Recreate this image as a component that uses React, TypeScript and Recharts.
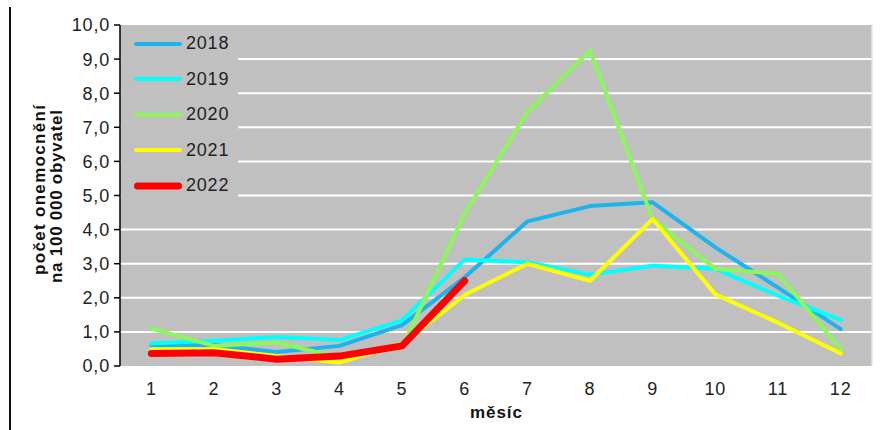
import React from 'react';
import {
  LineChart,
  Line,
  XAxis,
  YAxis,
  CartesianGrid,
  Legend,
  ReferenceLine
} from 'recharts';

const months = [1, 2, 3, 4, 5, 6, 7, 8, 9, 10, 11, 12];
const v2018 = [0.6, 0.62, 0.41, 0.59, 1.2, 2.6, 4.24, 4.69, 4.8, 3.48, 2.3, 1.08];
const v2019 = [0.66, 0.74, 0.85, 0.76, 1.34, 3.12, 3.04, 2.68, 2.94, 2.85, 2.06, 1.35];
const v2020 = [1.1, 0.59, 0.69, 0.25, 0.54, 4.47, 7.45, 9.25, 4.3, 2.85, 2.7, 0.49];
const v2021 = [0.49, 0.49, 0.29, 0.1, 0.66, 2.08, 3.0, 2.5, 4.31, 2.1, 1.27, 0.37];
const v2022 = [0.37, 0.39, 0.2, 0.29, 0.59, 2.5];
const yTicks = [0, 1, 2, 3, 4, 5, 6, 7, 8, 9, 10];

const FONT = '"Liberation Sans", Arial, sans-serif';

const series = [
  { key: 'y2018', name: '2018', color: '#1CB4EE', width: 4 },
  { key: 'y2019', name: '2019', color: '#00FFFF', width: 4 },
  { key: 'y2020', name: '2020', color: '#8CF75A', width: 4 },
  { key: 'y2021', name: '2021', color: '#FFFF00', width: 4 },
  { key: 'y2022', name: '2022', color: '#FF0000', width: 7 }
];

const data = months.map((m, i) => ({
  month: m,
  y2018: v2018[i],
  y2019: v2019[i],
  y2020: v2020[i],
  y2021: v2021[i],
  y2022: i < v2022.length ? v2022[i] : null
}));

// tick marks sit between the months, like the original spreadsheet chart
const boundaries = [...months.map((m) => m - 0.5), 12.5];

const tickStyle = { letterSpacing: '0.8px' };

const MonthTick = ({ x, y, payload }: any) => (
  <text
    x={x}
    y={y + 29}
    textAnchor="middle"
    fill="#222"
    fontSize={18}
    fontFamily={FONT}
    style={tickStyle}
  >
    {payload.value}
  </text>
);

const ValueTick = ({ x, y, payload }: any) => (
  <text
    x={x + 1}
    y={y}
    dy="0.36em"
    textAnchor="end"
    fill="#222"
    fontSize={18}
    fontFamily={FONT}
    style={tickStyle}
  >
    {payload.value.toFixed(1).replace('.', ',')}
  </text>
);

const YTitle = () => (
  <g fontFamily={FONT} fontWeight="bold" fontSize={17} fill="#111">
    <text
      x={45}
      y={190}
      textAnchor="middle"
      textLength={170}
      lengthAdjust="spacing"
      transform="rotate(-90, 45, 190)"
    >
      počet onemocnění
    </text>
    <text
      x={62}
      y={196.5}
      textAnchor="middle"
      textLength={173}
      lengthAdjust="spacing"
      transform="rotate(-90, 62, 196.5)"
    >
      na 100 000 obyvatel
    </text>
  </g>
);

const XTitle = () => (
  <text
    x={496}
    y={418}
    textAnchor="middle"
    fontFamily={FONT}
    fontWeight="bold"
    fontSize={17}
    fill="#111"
    textLength={52}
    lengthAdjust="spacing"
  >
    měsíc
  </text>
);

const LegendBox = () => (
  <div
    style={{
      width: 117,
      height: 172,
      background: '#C0C0C0',
      fontFamily: FONT,
      fontSize: 18,
      letterSpacing: '0.8px',
      color: '#222'
    }}
  >
    {series.map((s) => (
      <div key={s.key} style={{ display: 'flex', alignItems: 'center', height: 35.5 }}>
        <svg width={65} height={10} style={{ display: 'block' }}>
          <line
            x1={13 + s.width / 2}
            y1={5}
            x2={61 - s.width / 2}
            y2={5}
            stroke={s.color}
            strokeWidth={s.width}
            strokeLinecap="round"
          />
        </svg>
        <span>{s.name}</span>
      </div>
    ))}
  </div>
);

export default function App() {
  return (
    <div style={{ position: 'absolute', left: 0, top: 0, width: 894, height: 430, background: '#fff' }}>
      <div
        style={{
          position: 'absolute',
          left: 9,
          top: 7,
          width: 2,
          height: 423,
          background: '#111'
        }}
      />
      <LineChart
        width={894}
        height={430}
        data={data}
        margin={{ top: 25, right: 22, left: 0, bottom: 0 }}
      >
        <CartesianGrid
          xAxisId="b"
          vertical={false}
          horizontalValues={[1, 2, 3, 4, 5, 6, 7, 8, 9]}
          stroke="#FFFFFF"
          strokeWidth={2}
          fill="#C0C0C0"
          fillOpacity={1}
        />
        <XAxis
          xAxisId="b"
          type="number"
          dataKey="month"
          domain={[0.5, 12.5]}
          ticks={boundaries}
          tick={false}
          tickSize={6}
          height={0}
          stroke="#000"
          strokeWidth={1.5}
          allowDataOverflow
        />
        <XAxis
          xAxisId="m"
          type="number"
          dataKey="month"
          domain={[0.5, 12.5]}
          ticks={months}
          interval={0}
          axisLine={false}
          tickLine={false}
          tickSize={0}
          tickMargin={0}
          height={64}
          tick={<MonthTick />}
          label={<XTitle />}
        />
        <YAxis
          type="number"
          domain={[0, 10]}
          ticks={yTicks}
          interval={0}
          width={120}
          tickSize={6}
          tickMargin={5}
          stroke="#000"
          strokeWidth={1.5}
          tick={<ValueTick />}
          label={<YTitle />}
        />
        <ReferenceLine xAxisId="b" x={12.5} stroke="#E6E6E6" strokeWidth={1.5} />
        <Legend
          layout="vertical"
          align="center"
          verticalAlign="middle"
          wrapperStyle={{ left: 121, top: 26, width: 117, height: 172 }}
          content={<LegendBox />}
        />
        {series.map((s) => (
          <Line
            key={s.key}
            xAxisId="m"
            type="linear"
            dataKey={s.key}
            name={s.name}
            stroke={s.color}
            strokeWidth={s.width}
            strokeLinecap="round"
            strokeLinejoin="round"
            dot={false}
            activeDot={false}
            connectNulls={false}
            isAnimationActive={false}
          />
        ))}
      </LineChart>
    </div>
  );
}
